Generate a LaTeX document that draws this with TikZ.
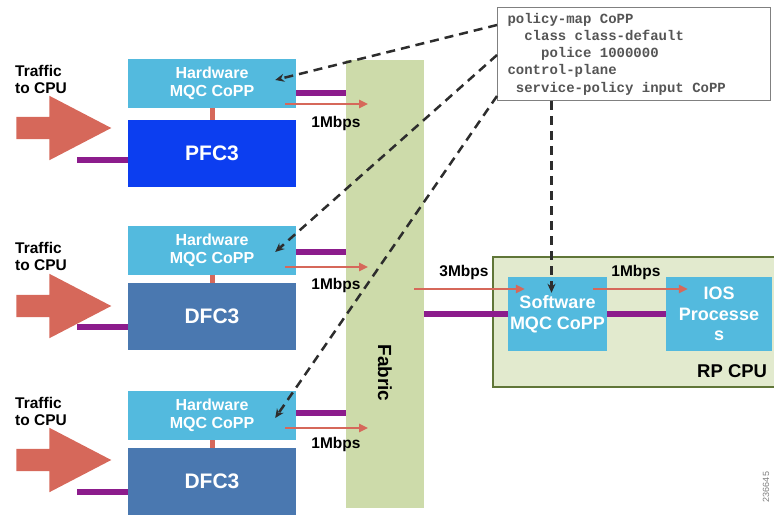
\documentclass[tikz,border=0pt]{standalone}
\usepackage{fontspec}
\setmainfont{Liberation Sans}
\setmonofont{Liberation Mono}
\usepackage{tikz}
\usetikzlibrary{arrows.meta, shapes.arrows, positioning, calc}
\usepackage{xcolor}
\definecolor{hwblue}{RGB}{83,186,222}
\definecolor{pfcblue}{RGB}{12,62,240}
\definecolor{dfcblue}{RGB}{74,120,176}
\definecolor{fabricgreen}{RGB}{205,219,170}
\definecolor{rpfill}{RGB}{226,234,206}
\definecolor{rpborder}{RGB}{96,118,56}
\definecolor{buspurple}{RGB}{140,28,140}
\definecolor{traffic}{RGB}{214,104,90}
\definecolor{dashgray}{RGB}{45,45,45}
\definecolor{cfgtext}{RGB}{85,85,85}

\begin{document}
\begin{tikzpicture}[x=1pt, y=-1pt,
    hw/.style={rectangle, fill=hwblue, text=white, minimum width=168pt, minimum height=49pt, inner sep=0pt, align=center, font=\bfseries\fontsize{16}{18}\selectfont},
    board/.style={rectangle, text=white, minimum width=168pt, minimum height=67pt, inner sep=0pt, font=\bfseries\fontsize{21}{24}\selectfont},
    cpu/.style={rectangle, fill=hwblue, text=white, minimum height=74pt, inner sep=0pt, align=center, font=\bfseries\fontsize{18}{20.5}\selectfont},
    txt/.style={inner sep=0pt, align=left, font=\bfseries\fontsize{15.5}{17}\selectfont},
    bigarrow/.style={single arrow, fill=traffic, draw=none, inner sep=11pt, minimum height=95pt, single arrow head extend=21pt, single arrow tip angle=55},
    bus/.style={line width=6pt, color=buspurple},
    link/.style={line width=5pt, color=traffic},
    rate/.style={-{Triangle[length=9pt,width=8pt]}, line width=2.8pt, color=traffic},
    cfg/.style={dash pattern=on 9pt off 6pt, line width=2.5pt, color=dashgray, -{Stealth[length=9pt,width=8pt]}}
]
\useasboundingbox (0,0) rectangle (774,516);

% Fabric und RP CPU
\node[rectangle, fill=fabricgreen, minimum width=78pt, minimum height=448pt, inner sep=0pt] (fabric) at (385,284) {};
\node[rotate=-90, font=\bfseries\fontsize{19}{22}\selectfont, inner sep=0pt] (fabriclabel) at (385,373) {Fabric};
\node[rectangle, draw=rpborder, line width=2pt, fill=rpfill, minimum width=287pt, minimum height=130pt, inner sep=0pt] (rp) at (636.5,322) {};
\node[anchor=west, inner sep=0pt, font=\bfseries\fontsize{18.5}{21}\selectfont] (rplabel) at (697,371) {RP CPU};

% Linecards
\node[hw] (hw1) at (212,83.5) {Hardware\\MQC CoPP};
\node[board, fill=pfcblue] (pfc) at (212,153.5) {PFC3};
\node[hw] (hw2) at (212,250) {Hardware\\MQC CoPP};
\node[board, fill=dfcblue] (dfc1) at (212,316.5) {DFC3};
\node[hw] (hw3) at (212,415.5) {Hardware\\MQC CoPP};
\node[board, fill=dfcblue] (dfc2) at (212,481.5) {DFC3};

% Traffic
\node[txt, anchor=west] (traffic1) at (15,79) {Traffic\\to CPU};
\node[txt, anchor=west] (traffic2) at (15,256) {Traffic\\to CPU};
\node[txt, anchor=west] (traffic3) at (15,411) {Traffic\\to CPU};
\node[bigarrow] (in1) at (53,128) {};
\node[bigarrow] (in2) at (53,306) {};
\node[bigarrow] (in3) at (53,460) {};

% RP CPU
\node[cpu, minimum width=99pt] (sw) at (557.5,314) {Software\\MQC CoPP};
\node[cpu, minimum width=106pt] (ios) at (719,314) {IOS\\Processe\\s};

% Policy
\node[rectangle, draw=gray, line width=1pt, fill=white, anchor=north west, text width=253pt, minimum height=93pt, inner xsep=10pt, align=left, text=cfgtext, font=\ttfamily\bfseries\fontsize{14}{17.2}\selectfont] (policy) at (497,7)
  {\spaceskip=0.6em\relax policy-map CoPP\\~~class class-default\\~~~~police 1000000\\control-plane\\~service-policy input CoPP};

% Busse
\draw[bus] ([yshift=-6.5pt]pfc.west) -- +(-51,0);
\draw[bus] ([yshift=-10.5pt]dfc1.west) -- +(-51,0);
\draw[bus] ([yshift=-10.5pt]dfc2.west) -- +(-51,0);
\draw[bus] ([yshift=-9.5pt]hw1.east) -- ([yshift=-9.5pt]hw1.east -| fabric.west);
\draw[bus] ([yshift=-2pt]hw2.east) -- ([yshift=-2pt]hw2.east -| fabric.west);
\draw[bus] ([yshift=2.5pt]hw3.east) -- ([yshift=2.5pt]hw3.east -| fabric.west);
\draw[bus] (fabric.east |- sw.west) -- (sw.west);
\draw[bus] (sw.east) -- (ios.west);

% HW - PFC/DFC
\draw[link] (hw1.south) -- (pfc.north);
\draw[link] (hw2.south) -- (dfc1.north);
\draw[link] (hw3.south) -- (dfc2.north);

% Raten
\draw[rate] ([xshift=-11pt,yshift=-20.5pt]hw1.east) -- +(83,0);
\draw[rate] ([xshift=-11pt,yshift=-17pt]hw2.east) -- +(83,0);
\draw[rate] ([xshift=-11pt,yshift=-12.5pt]hw3.east) -- +(83,0);
\draw[rate] ([xshift=-10pt,yshift=25pt]fabric.east |- sw.west) -- ([xshift=17pt,yshift=25pt]sw.west);
\draw[rate] ([xshift=-14pt,yshift=25pt]sw.east) -- ([xshift=22pt,yshift=25pt]ios.west);
\node[txt] (r1) at (336,123) {1Mbps};
\node[txt] (r2) at (336,285) {1Mbps};
\node[txt] (r3) at (336,444) {1Mbps};
\node[txt] (r4) at (464,272) {3Mbps};
\node[txt] (r5) at (636,272) {1Mbps};

% Policy -> CoPP
\draw[cfg] ([yshift=-18pt]policy.north west) -- ([xshift=-21pt,yshift=3.5pt]hw1.east);
\draw[cfg] ([yshift=-48pt]policy.north west) -- ([xshift=-21pt,yshift=-2pt]hw2.east);
\draw[cfg] ([yshift=5pt]policy.south west) -- ([xshift=-21pt,yshift=-2.5pt]hw3.east);
\draw[cfg] ([xshift=-6pt]sw.north |- policy.south) -- ([xshift=-6pt,yshift=-16pt]sw.north);

\node[rotate=90, inner sep=0pt, text=gray, font=\fontsize{9}{10}\selectfont] (figid) at (766,487) {236645};
\end{tikzpicture}
\end{document}
